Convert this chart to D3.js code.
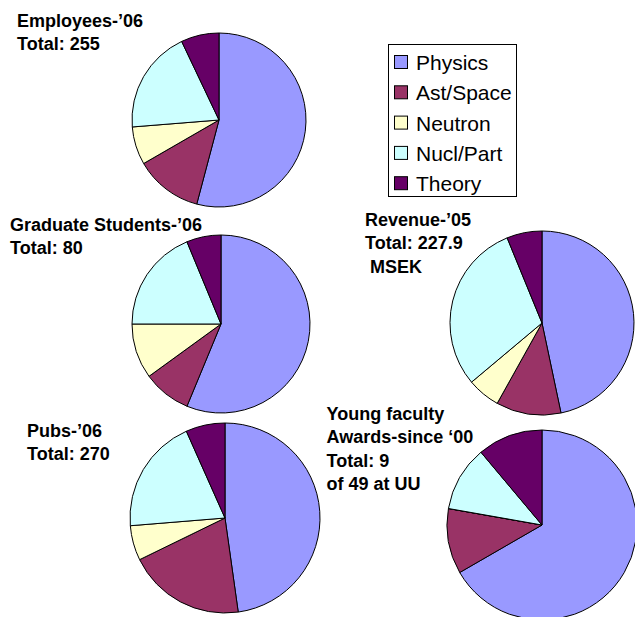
<!DOCTYPE html>
<html>
<head>
<meta charset="utf-8">
<script src="https://cdn.jsdelivr.net/npm/d3@7"></script>
<style>
  body { margin: 0; background: #fff; }
  svg { display: block; font-family: 'Liberation Sans', Arial, sans-serif; }
  .title { font-size: 18px; font-weight: bold; fill: #000; }
  .legend text { font-size: 21px; fill: #000; }
</style>
</head>
<body>
<svg id="chart" width="635" height="617"></svg>
<script>
const categories = ['Physics', 'Ast/Space', 'Neutron', 'Nucl/Part', 'Theory']
const colors = ['#9999ff', '#993366', '#ffffcc', '#ccffff', '#660066']

const employees06 = [138, 32, 18, 49, 18]
const gradStudents06 = [45, 7, 8, 15, 5]
const revenue05 = [106.4, 26, 13.2, 68.2, 14.1]
const pubs06 = [129, 54, 16, 53, 18]
const youngFaculty = [6, 1, 0, 1, 1]

const employeesTitle = ['Employees-\u201906', 'Total: 255']
const gradTitle = ['Graduate Students-\u201906', 'Total: 80']
const revenueTitle = ['Revenue-\u201905', 'Total: 227.9', ' MSEK']
const pubsTitle = ['Pubs-\u201906', 'Total: 270']
const facultyTitle = ['Young faculty', 'Awards-since \u201800', 'Total: 9', 'of 49 at UU']

const svg = d3.select('#chart')
const color = d3.scaleOrdinal().domain(categories).range(colors)

const createPieGenerator = () =>
  d3.pie().sort(null).value((d) => d.value)

const drawPie = ({ values, cx, cy, r }) => {
  const data = categories.map((name, i) => ({ name, value: values[i] }))
  const arc = d3.arc().innerRadius(0).outerRadius(r)
  svg.append('g')
    .attr('transform', `translate(${cx},${cy})`)
    .selectAll('path')
    .data(createPieGenerator()(data))
    .join('path')
    .attr('d', arc)
    .attr('fill', (d) => color(d.data.name))
    .attr('stroke', '#000')
    .attr('stroke-width', 1)
}

const drawTitle = ({ lines, x, y }) => {
  svg.append('text')
    .attr('class', 'title')
    .attr('x', x)
    .attr('y', y)
    .selectAll('tspan')
    .data(lines)
    .join('tspan')
    .attr('x', x)
    .attr('dy', (d, i) => (i === 0 ? 0 : 23.4))
    .style('white-space', 'pre')
    .text((d) => d)
}

drawPie({ values: employees06, cx: 219, cy: 120, r: 87 })
drawPie({ values: gradStudents06, cx: 221, cy: 324, r: 89 })
drawPie({ values: revenue05, cx: 542, cy: 323, r: 92 })
drawPie({ values: pubs06, cx: 225, cy: 518, r: 95 })
drawPie({ values: youngFaculty, cx: 542, cy: 525, r: 95 })

drawTitle({ lines: employeesTitle, x: 17, y: 27 })
drawTitle({ lines: gradTitle, x: 10, y: 231 })
drawTitle({ lines: revenueTitle, x: 365, y: 226 })
drawTitle({ lines: pubsTitle, x: 27, y: 436.5 })
drawTitle({ lines: facultyTitle, x: 326.5, y: 420 })

// legend
const legend = svg.append('g').attr('class', 'legend')
legend.append('rect')
  .attr('x', 388.5).attr('y', 44.5)
  .attr('width', 128).attr('height', 152)
  .attr('fill', '#fff').attr('stroke', '#000')

const rows = legend.selectAll('g.row')
  .data(categories)
  .join('g')
  .attr('class', 'row')
  .attr('transform', (d, i) => `translate(394,${55 + i * 30.3})`)

rows.append('rect')
  .attr('x', 0.5).attr('y', 0.5)
  .attr('width', 13).attr('height', 13)
  .attr('fill', (d) => color(d))
  .attr('stroke', '#000')

rows.append('text')
  .attr('x', 22)
  .attr('y', 15)
  .text((d) => d)
</script>
</body>
</html>
